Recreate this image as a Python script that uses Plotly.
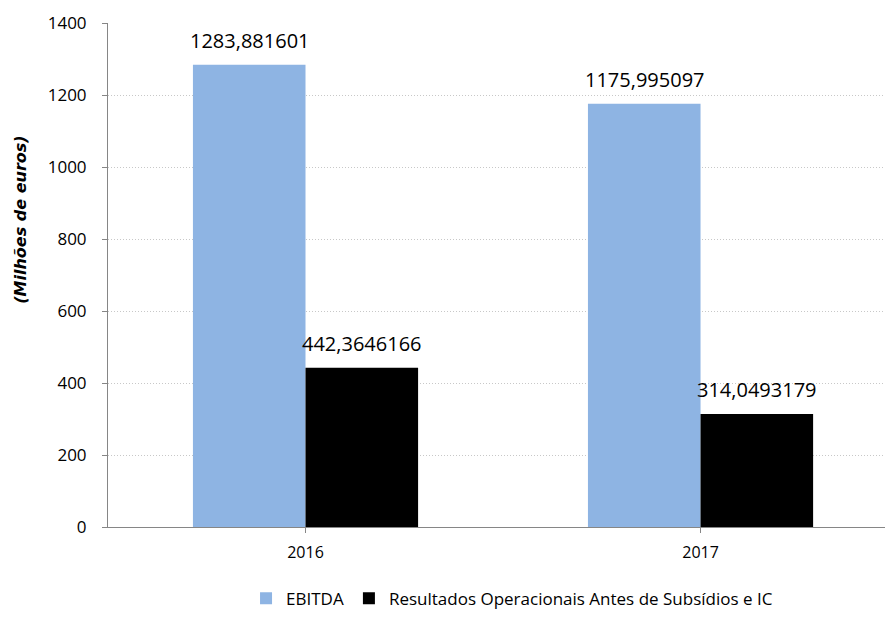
import plotly.graph_objects as go

years = ["2016", "2017"]
ebitda = [1283.881601, 1175.995097]
resultados = [442.3646166, 314.0493179]
series_names = ["EBITDA", "Resultados Operacionais Antes de Subsídios e IC"]
value_labels_ebitda = ["1283,881601", "1175,995097"]
value_labels_res = ["442,3646166", "314,0493179"]

fig = go.Figure()
fig.add_trace(go.Bar(x=years, y=ebitda, name=series_names[0],
                     marker=dict(color="#8EB4E3", line=dict(width=0))))
fig.add_trace(go.Bar(x=years, y=resultados, name=series_names[1],
                     marker=dict(color="#000000", line=dict(width=0))))

# value labels above each bar, shifted into the bar's slot within the group
for vals, labels, shift in ((ebitda, value_labels_ebitda, -56),
                            (resultados, value_labels_res, 56)):
    for i, (v, lab) in enumerate(zip(vals, labels)):
        fig.add_annotation(x=i, y=v, text=lab, showarrow=False,
                           xref="x", yref="y", xshift=shift, yshift=24,
                           yanchor="middle",
                           font=dict(family="Open Sans", size=20, color="#000"))

fig.add_annotation(text="<b><i>(Milhões de euros)</i></b>", textangle=-90,
                   xref="paper", yref="paper", x=-0.113, y=0.61,
                   xanchor="center", yanchor="middle", showarrow=False,
                   font=dict(family="DejaVu Sans", size=16, color="#000"))

fig.update_layout(
    width=885, height=617,
    margin=dict(l=108, r=0, t=23, b=90, autoexpand=False),
    paper_bgcolor="white", plot_bgcolor="white",
    barmode="group", bargap=0.43, bargroupgap=0,
    showlegend=True,
    legend=dict(orientation="h", x=0.52, xanchor="center", y=-0.178,
                yanchor="bottom", font=dict(family="Open Sans", size=17, color="#000"),
                itemwidth=30, tracegroupgap=0),
    font=dict(family="Open Sans", size=16, color="#000"),
)
fig.update_xaxes(type="category", range=[-0.5, 1.467],
                 showline=True, linecolor="#868686", linewidth=1,
                 ticks="outside", ticklen=5, tickcolor="#868686",
                 showgrid=False, ticklabelstandoff=6,
                 tickfont=dict(family="Open Sans", size=16))
fig.update_yaxes(range=[0, 1400], dtick=200,
                 showline=True, linecolor="#868686", linewidth=1,
                 ticks="outside", ticklen=5, tickcolor="#868686",
                 showgrid=True, gridcolor="#C8C8C8", griddash="1px,2px", gridwidth=1,
                 zeroline=False, ticklabelstandoff=12,
                 tickfont=dict(family="Open Sans", size=17))

fig.write_html("out.html")
